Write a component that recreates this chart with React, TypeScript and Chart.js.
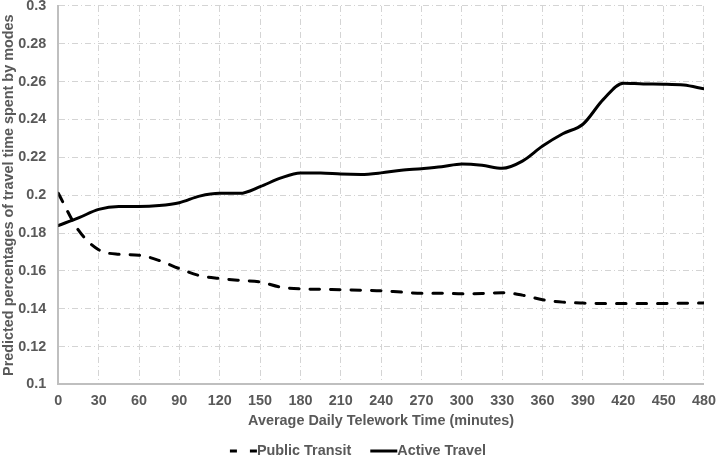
import React, { useEffect, useRef } from "react";
import { Chart, registerables } from "chart.js";

Chart.register(...registerables);

const minutes = [0, 15, 30, 45, 60, 75, 90, 105, 120, 135, 150, 165, 180, 195, 210, 225, 240, 255, 270, 285, 300, 315, 330, 345, 360, 375, 390, 405, 420, 435, 450, 465, 480];

const publicTransit = [0.201, 0.1815, 0.1712, 0.1688, 0.1683, 0.1655, 0.1612, 0.1575, 0.156, 0.155, 0.1542, 0.1515, 0.1505, 0.1503, 0.150, 0.1498, 0.1495, 0.1488, 0.1482, 0.1482, 0.1479, 0.148, 0.1485, 0.1472, 0.1448, 0.1435, 0.143, 0.1428, 0.1428, 0.1428, 0.1428, 0.1429, 0.143];

const activeTravel = [0.184, 0.188, 0.1925, 0.194, 0.194, 0.1945, 0.196, 0.1995, 0.201, 0.201, 0.2045, 0.209, 0.2118, 0.2118, 0.2112, 0.211, 0.2118, 0.2132, 0.214, 0.215, 0.2165, 0.2158, 0.2142, 0.218, 0.226, 0.2325, 0.2375, 0.2505, 0.2592, 0.2588, 0.2587, 0.2582, 0.2562];

const seriesNames = ["Public Transit", "Active Travel"];
const xTitle = "Average Daily Telework Time (minutes)";
const yTitle = "Predicted percentages of travel time spent by modes";

const textColor = "#595959";
const gridColor = "#d4d4d4";
const fontFamily = "'Liberation Sans', Arial, sans-serif";
const fontSize = 14.4;

const legendPlugin = {
  id: "bottomLegend",
  afterDraw(chart: any) {
    const ctx = chart.ctx as CanvasRenderingContext2D;
    ctx.save();
    ctx.font = `bold ${fontSize}px ${fontFamily}`;
    ctx.textBaseline = "middle";
    ctx.textAlign = "left";
    const sample = 27;
    const gap = 19;
    const w1 = ctx.measureText(seriesNames[0]).width;
    const w2 = ctx.measureText(seriesNames[1]).width;
    const total = sample + w1 + gap + sample + w2;
    let x = chart.width / 2 - total / 2;
    const y = chart.height - 7;
    const dashes = [[7, 13], []];
    const names = seriesNames;
    for (let i = 0; i < names.length; i++) {
      ctx.strokeStyle = "#000000";
      ctx.lineWidth = 3;
      ctx.lineCap = "butt";
      ctx.setLineDash(dashes[i]);
      ctx.beginPath();
      ctx.moveTo(x, y);
      ctx.lineTo(x + sample, y);
      ctx.stroke();
      ctx.setLineDash([]);
      x += sample;
      ctx.fillStyle = textColor;
      ctx.fillText(names[i], x, y);
      x += (i === 0 ? w1 : w2) + gap;
    }
    ctx.restore();
  },
};

export default function App() {
  const ref = useRef<HTMLCanvasElement | null>(null);

  useEffect(() => {
    if (!ref.current) return;
    const chart = new Chart(ref.current, {
      type: "line",
      data: {
        datasets: [
          {
            label: seriesNames[0],
            data: minutes.map((m, i) => ({ x: m, y: publicTransit[i] })),
            borderColor: "#000000",
            backgroundColor: "#000000",
            borderWidth: 3,
            borderDash: [9.5, 11],
            borderCapStyle: "round",
            pointRadius: 0,
            cubicInterpolationMode: "monotone",
            fill: false,
          },
          {
            label: seriesNames[1],
            data: minutes.map((m, i) => ({ x: m, y: activeTravel[i] })),
            borderColor: "#000000",
            backgroundColor: "#000000",
            borderWidth: 3,
            borderCapStyle: "round",
            pointRadius: 0,
            cubicInterpolationMode: "monotone",
            fill: false,
          },
        ],
      },
      plugins: [legendPlugin],
      options: {
        responsive: false,
        animation: false,
        layout: { padding: { left: 0, right: 0, top: 0, bottom: 28 } },
        plugins: {
          tooltip: { enabled: false },
          legend: { display: false },
        },
        scales: {
          x: {
            type: "linear",
            min: 0,
            max: 480,
            ticks: {
              stepSize: 30,
              color: textColor,
              padding: 0,
              maxRotation: 0,
              font: { family: fontFamily, size: fontSize, weight: "bold" },
            },
            grid: { color: gridColor, lineWidth: 1, drawTicks: true, tickLength: 8, tickColor: "rgba(0,0,0,0)" },
            border: { display: true, color: "#bfbfbf", width: 2, dash: [6, 3, 1, 3] },
            title: {
              display: true,
              text: xTitle,
              color: textColor,
              padding: { top: 3, bottom: 0 },
              font: { family: fontFamily, size: fontSize, weight: "bold" },
            },
          },
          y: {
            type: "linear",
            min: 0.1,
            max: 0.3,
            ticks: {
              stepSize: 0.02,
              color: textColor,
              padding: 0,
              font: { family: fontFamily, size: fontSize, weight: "bold", lineHeight: 0.83 },
              callback: (v: any) => String(Number(Number(v).toFixed(2))),
            },
            grid: { color: gridColor, lineWidth: 1, drawTicks: true, tickLength: 12, tickColor: "rgba(0,0,0,0)" },
            border: { display: true, color: "#bfbfbf", width: 2, dash: [6, 3, 1, 3] },
            title: {
              display: true,
              text: yTitle,
              color: textColor,
              padding: { top: 0, bottom: 1 },
              font: { family: fontFamily, size: fontSize, weight: "bold" },
            },
          },
        },
      },
    });
    return () => chart.destroy();
  }, []);

  return (
    <div style={{ position: "absolute", left: 0, top: 0, width: 716, height: 458, background: "#ffffff" }}>
      <canvas ref={ref} width={716} height={458} style={{ display: "block" }} />
    </div>
  );
}
